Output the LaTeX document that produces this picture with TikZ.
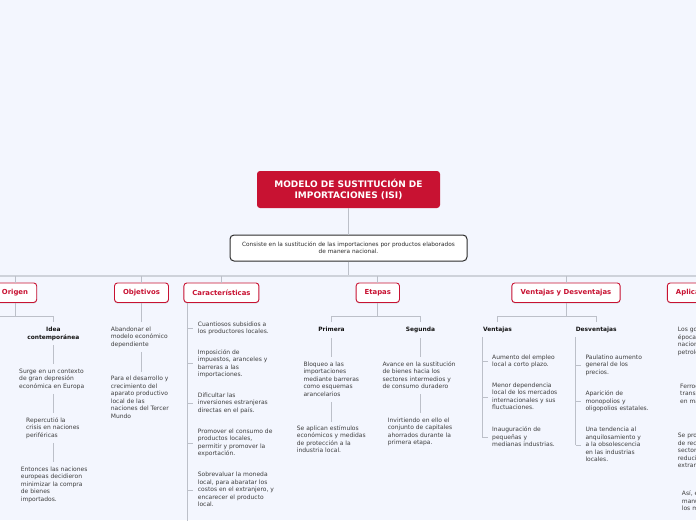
\documentclass[tikz,border=0pt]{standalone}
\usepackage{fontspec}
\setmainfont{DejaVu Sans}
\usetikzlibrary{shadows}
\definecolor{bgc}{RGB}{243,246,254}
\definecolor{isired}{RGB}{200,18,50}
\definecolor{linec}{RGB}{188,192,201}
\definecolor{barc}{RGB}{206,210,218}
\definecolor{bodyc}{RGB}{62,62,62}
\definecolor{headc}{RGB}{20,20,20}
\definecolor{subc}{RGB}{45,45,45}
\newcommand\lftblock[1]{\vtop{\let\\\cr\halign{\strut##\hfil\cr#1\crcr}}}
\newcommand\ctrblock[1]{\vtop{\let\\\cr\halign{\hfil\strut##\hfil\cr#1\crcr}}}
\tikzset{
  isibody/.style={font=\fontsize{6}{7.5}\selectfont, text=bodyc, inner sep=0pt, anchor=base west},
  isihead/.style={font=\fontsize{5.9}{8}\selectfont\bfseries, text=headc, inner sep=0pt, anchor=base},
  isibranch/.style={draw=isired, line width=0.9pt, fill=white, rounded corners=3pt, text=isired,
    font=\fontsize{6.9}{8}\selectfont\bfseries, minimum height=19.5pt, inner sep=0pt,
    drop shadow={shadow xshift=0pt, shadow yshift=-1pt, opacity=0.18, fill=black}},
  isiroot/.style={fill=isired, rounded corners=3pt, text=white, align=center,
    font=\fontsize{9}{11.5}\selectfont\bfseries, minimum width=183pt, minimum height=37pt, inner sep=0pt},
  isisub/.style={draw=subc, line width=1pt, fill=white, rounded corners=4pt, text=subc, align=center,
    font=\fontsize{5.8}{6.8}\selectfont, minimum width=237pt, minimum height=26pt, inner sep=0pt},
  isiconn/.style={draw=linec, line width=1pt},
  isibar/.style={draw=barc, line width=1.6pt},
}
\begin{document}
\begin{tikzpicture}[x=1pt,y=-1pt]
\useasboundingbox (0,0) rectangle (696,520);
\clip (0,0) rectangle (696,520);
\fill[bgc] (0,0) rectangle (696,520);

% coordinates used by connectors
\coordinate (barY) at (0,275.7);
\coordinate (barL) at (-10,275.7);
\coordinate (barR) at (706,275.7);
\coordinate (splitY) at (0,316.7);
\coordinate (origenFar) at (-30,316.7);
\coordinate (bottomY) at (0,530);

% root and subtitle
\node[isiroot] (root) at (348.5,189.5) {MODELO DE SUSTITUCIÓN DE\\IMPORTACIONES (ISI)};
\node[isisub] (sub) at (348.5,248) {Consiste en la sustitución de las importaciones por productos elaborados\\de manera nacional.};

% branches
\node[isibranch, minimum width=43.4pt] (origen) at (15,292.7) {Origen};
\node[isibranch, minimum width=54pt] (objetivos) at (141.5,292.7) {Objetivos};
\node[isibranch, minimum width=75pt] (carac) at (221.4,292.7) {Características};
\node[isibranch, minimum width=43.3pt] (etapas) at (377.8,292.7) {Etapas};
\node[isibranch, minimum width=108.3pt] (vyd) at (566,292.7) {Ventajas y Desventajas};
\node[isibranch, minimum width=66pt] (aplic) at (700.3,292.7) {Aplicaciones};

% Origen
\node[isihead] (idea) at (53.3,331.6) {\ctrblock{Idea\\contemporánea}};
\node[isibody] (surge) at (19,373.4) {\lftblock{Surge en un contexto\\de gran depresión\\económica en Europa}};
\node[isibody] (reper) at (26,422.4) {\lftblock{Repercutió la\\crisis en naciones\\periféricas}};
\node[isibody] (entonces) at (20.7,471) {\lftblock{Entonces las naciones\\europeas decidieron\\minimizar la compra\\de bienes\\importados.}};

% Objetivos
\node[isibody] (aband) at (110.7,331) {\lftblock{Abandonar el\\modelo económico\\dependiente}};
\node[isibody] (para) at (110.7,380.7) {\lftblock{Para el desarrollo y\\crecimiento del\\aparato productivo\\local de las\\naciones del Tercer\\Mundo}};

% Caracteristicas
\node[isibody] (c1) at (197.7,326) {\lftblock{Cuantiosos subsidios a\\los productores locales.}};
\node[isibody] (c2) at (197.7,354) {\lftblock{Imposición de\\impuestos, aranceles y\\barreras a las\\importaciones.}};
\node[isibody] (c3) at (197.7,397.4) {\lftblock{Dificultar las\\inversiones estranjeras\\directas en el país.}};
\node[isibody] (c4) at (197.7,433.4) {\lftblock{Promover el consumo de\\productos locales,\\permitir y promover la\\exportación.}};
\node[isibody] (c5) at (197.7,476.7) {\lftblock{Sobrevaluar la moneda\\local, para abaratar los\\costos en el extranjero, y\\encarecer el producto\\local.}};

% Etapas
\node[isihead] (primera) at (331.5,331) {\ctrblock{Primera}};
\node[isihead] (segunda) at (420.5,331) {\ctrblock{Segunda}};
\node[isibody] (bloqueo) at (303.3,366) {\lftblock{Bloqueo a las\\importaciones\\mediante barreras\\como esquemas\\arancelarios}};
\node[isibody] (seapl) at (296.7,430) {\lftblock{Se aplican estímulos\\económicos y medidas\\de protección a la\\industria local.}};
\node[isibody] (avance) at (382.3,366) {\lftblock{Avance en la sustitución\\de bienes hacia los\\sectores intermedios y\\de consumo duradero}};
\node[isibody] (invir) at (387.7,422.4) {\lftblock{Invirtiendo en ello el\\conjunto de capitales\\ahorrados durante la\\primera etapa.}};

% Ventajas y Desventajas
\node[isihead] (vent) at (497.5,331) {\ctrblock{Ventajas}};
\node[isihead] (desv) at (596.2,331) {\ctrblock{Desventajas}};
\node[isibody] (v1) at (492,359.4) {\lftblock{Aumento del empleo\\local a corto plazo.}};
\node[isibody] (v2) at (492,387.4) {\lftblock{Menor dependencia\\local de los mercados\\internacionales y sus\\fluctuaciones.}};
\node[isibody] (v3) at (492,431.7) {\lftblock{Inauguración de\\pequeñas y\\medianas industrias.}};
\node[isibody] (d1) at (585.3,359.4) {\lftblock{Paulatino aumento\\general de los\\precios.}};
\node[isibody] (d2) at (585.3,395.7) {\lftblock{Aparición de\\monopolios y\\oligopolios estatales.}};
\node[isibody] (d3) at (585.3,431.7) {\lftblock{Una tendencia al\\anquilosamiento y\\a la obsolescencia\\en las industrias\\locales.}};

% Aplicaciones (cut by the right edge)
\node[isibody] (a1) at (677.7,331.7) {\lftblock{Los gobiernos de la\\época crearon\\nacionales\\petroleras}};
\node[isibody] (a2) at (680,388.4) {\lftblock{Ferrocarriles,\\transportes\\en manos}};
\node[isibody] (a3) at (677.7,437.7) {\lftblock{Se promovió\\de recursos\\sectores\\reduciendo\\extranjeros}};
\node[isibody] (a4) at (681.7,495.7) {\lftblock{Así, el\\manufacturero\\los mercados}};

% connectors: trunk
\draw[isiconn] (root) -- (sub);
\draw[isiconn] (sub.south) -- (sub.south |- barY);
\draw[isibar] (barL) -- (barR);
\foreach \n in {origen,objetivos,carac,etapas,vyd,aplic}
  \draw[isiconn] (\n.north) -- (\n.north |- barY);

% Origen
\draw[isiconn, shorten >=4pt] (origen.south) -- (origen.south |- splitY) -| (idea.north);
\draw[isiconn] (origen.south |- splitY) -- (origenFar);
\draw[isiconn, shorten <=3pt, shorten >=3.5pt] (idea.south) -- (surge.north -| idea.south);
\draw[isiconn, shorten <=3pt, shorten >=3.5pt] (surge.south -| idea.south) -- (reper.north -| idea.south);
\draw[isiconn, shorten <=3pt, shorten >=3.5pt] (reper.south -| idea.south) -- (entonces.north -| idea.south);

% Objetivos
\draw[isiconn, shorten >=4pt] (objetivos.south) -- (aband.north -| objetivos.south);
\draw[isiconn, shorten <=3.5pt, shorten >=3.5pt] (aband.south -| objetivos.south) -- (para.north -| objetivos.south);

% Caracteristicas
\coordinate (cl) at ([xshift=4pt]carac.south west);
\draw[isiconn] (cl) -- (cl |- bottomY);
\foreach \c in {c1,c2,c3,c4,c5}
  \draw[isiconn] (\c.west -| cl) -- ([xshift=-4.5pt]\c.west);

% Etapas
\draw[isiconn] (etapas.south) -- (etapas.south |- splitY);
\draw[isiconn, shorten >=3.5pt] (etapas.south |- splitY) -| (primera.north);
\draw[isiconn, shorten >=3.5pt] (etapas.south |- splitY) -| (segunda.north);
\draw[isiconn, shorten <=4.5pt, shorten >=4pt] (primera.south) -- (bloqueo.north -| primera.south);
\draw[isiconn, shorten <=3.5pt, shorten >=3pt] (bloqueo.south -| primera.south) -- (seapl.north -| primera.south);
\draw[isiconn, shorten <=4.5pt, shorten >=4pt] (segunda.south) -- (avance.north -| segunda.south);
\draw[isiconn, shorten <=3.5pt, shorten >=3.8pt] (avance.south -| segunda.south) -- (invir.north -| segunda.south);

% Ventajas y Desventajas
\draw[isiconn] (vyd.south) -- (vyd.south |- splitY);
\draw[isiconn, shorten >=3.5pt] (vyd.south |- splitY) -| (vent.north);
\draw[isiconn, shorten >=3.5pt] (vyd.south |- splitY) -| (desv.north);
\draw[isiconn, shorten <=3.3pt] (vent.south west) -- (v3.west -| vent.south west);
\foreach \c in {v1,v2,v3}
  \draw[isiconn] (\c.west -| vent.south west) -- ([xshift=-4.5pt]\c.west);
\draw[isiconn, shorten <=3.3pt] (desv.south west) -- (d3.west -| desv.south west);
\foreach \c in {d1,d2,d3}
  \draw[isiconn] (\c.west -| desv.south west) -- ([xshift=-4.5pt]\c.west);
\end{tikzpicture}
\end{document}
